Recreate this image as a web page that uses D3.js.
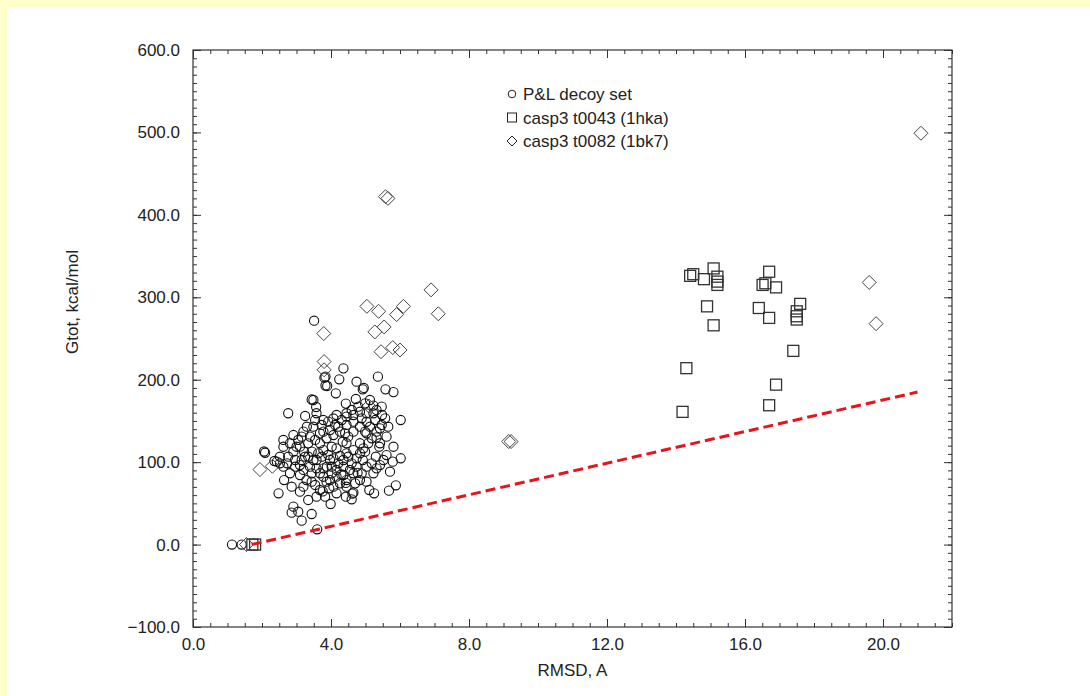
<!DOCTYPE html>
<html>
<head>
<meta charset="utf-8">
<script src="https://cdn.jsdelivr.net/npm/d3@7"></script>
<style>
  html, body { margin: 0; padding: 0; background: #ffffcc; }
  #chart { position: absolute; left: 7px; top: 7px; width: 1083px; height: 689px; background: #fff; }
  text { font-family: "Liberation Sans", Arial, Helvetica, sans-serif; fill: #222; }
</style>
</head>
<body>
<div id="chart"></div>
<script>
// P&L decoy set (RMSD, Gtot)
var decoySet = [
  [1.13,0],[1.41,0],
  [3.51,271.6],[4.36,213.8],[4.24,200.5],[4.74,197.6],[4.92,188.3],[5.36,203.7],[5.58,188.3],[5.81,185],
  [3.84,203.7],[3.89,192.4],[4.14,183.5],[3.49,175.4],[3.57,166.9],[4.43,171],[4.72,176.6],[5.23,168.6],
  [5.48,157.2],[6.02,151.1],[2.76,159.3],[3.25,156],[3.58,159.3],[4.16,157.2],[4.45,159.3],[2.09,111.4],
  [2.62,118.7],[2.91,132.9],[3.15,130.9],[3.39,130.9],[3.68,122.9],[4.02,118.7],[4.45,122.9],[4.84,122.9],
  [5.03,135],[5.4,118.7],[5.61,130.9],[5.3,106.6],[6.02,104.7],[5.79,100.6],[5.71,88.4],[5.42,96.5],
  [5.23,86.5],[4.92,102.5],[4.65,86.5],[4.7,74.3],[4.45,70.2],[4.26,74.3],[3.97,78.3],[3.68,86.5],
  [3.44,76.3],[3.2,70.2],[3.1,84.4],[2.81,86.5],[2.64,78.3],[2.48,62.2],[2.91,46],[2.86,38.7],
  [3.05,39.9],[3.15,29],[3.44,37.1],[3.34,54.1],[3.58,58.1],[3.83,58.1],[3.99,49.2],[3.95,68.3],
  [4.16,62.2],[4.43,58.1],[4.6,54.9],[4.65,63],[5.11,66.2],[5.25,62.2],[5.68,65.4],[5.88,71.9],
  [3.6,18.5],[2.36,101.4],[2.52,98.6],[2.73,98.6],[2.96,102.6],[3.1,96.5],[3.25,106.6],[3.44,112.7],
  [3.73,106.6],[3.97,102.6],[4.26,107.5],[4.45,110.7],[4.65,114.7],[4.99,112.7],[2.62,126.9],[2.81,122.9],
  [3.0,118.7],[3.3,143],[3.49,143],[3.78,137],[3.97,139],[4.21,143],[4.41,135],[4.65,137],
  [4.84,143],[5.03,149],[5.28,151.1],[5.42,141],[5.66,143],[5.42,122.9],[5.32,130],[5.81,118.7],
  [5.61,108.6],[3.78,151.1],[4.07,153],[4.65,157.2],[4.84,161.2],[5.23,159.3],[3.39,94.5],[3.58,92.5],
  [3.88,94.5],[4.16,90.5],[4.36,94.5],[3.54,72.3],[3.78,82.3],[4.95,190],[4.62,61.8],[4.77,87],
  [4.43,74.8],[4.3,85],[3.76,64.5],[3.81,202.5],[3.84,193],[2.06,112.9],[3.44,176],
  [3.10,118.8],[3.22,112.7],[3.34,106.6],[3.49,102.6],[3.63,110.7],[3.78,114.7],[3.92,108.7],[4.07,104.6],
  [4.21,98.6],[4.36,102.6],[4.50,106.6],[4.60,98.6],[4.74,104.6],[4.84,110.7],[4.94,116.8],[5.08,122.8],
  [5.18,128.9],[5.32,137.0],[5.47,145.1],[5.57,153.1],[5.03,159.2],[4.89,153.1],[4.65,149.1],[4.45,145.1],
  [4.26,137.0],[4.07,132.9],[3.87,128.9],[3.68,134.9],[3.54,126.9],[3.34,122.8],[3.20,137.0],[3.05,126.9],
  [2.91,112.7],[2.76,106.6],[2.62,94.5],[2.52,106.6],[2.43,100.6],[2.96,94.5],[3.20,90.5],[3.44,86.4],
  [3.58,102.6],[3.78,92.5],[4.02,86.4],[4.16,82.4],[4.36,84.4],[4.55,90.5],[4.74,94.5],[4.89,86.4],
  [5.03,94.5],[5.18,98.6],[5.32,92.5],[5.52,102.6],[3.54,151.1],[3.73,145.1],[3.92,149.1],[4.12,145.1],
  [4.31,151.1],[4.45,155.2],[4.60,163.3],[4.79,167.3],[4.99,171.3],[5.13,175.4],[5.32,163.3],[5.47,167.3],
  [3.29,78.3],[3.10,64.2],[3.68,66.2],[3.87,76.3],[4.07,70.2],[4.45,78.3],[4.84,78.3],[5.03,76.3],
  [4.02,94.5],[4.16,116.8],[4.34,124.8],[4.50,130.9],[4.99,137.0],[5.13,143.0],[3.15,102.6],[2.86,70.2]
];

// casp3 t0043 (1hka)
var t0043 = [
  [14.41,326],[14.5,328],[14.81,322],[15.09,335],[15.2,325],[15.2,319],[15.2,315],[14.9,289],
  [15.09,266],[16.7,331],[16.51,315],[16.59,317],[16.9,312],[16.4,287],[16.7,275],[17.6,292],
  [17.5,283],[17.5,277],[17.5,273],[17.4,235],[14.3,214],[16.9,194],[14.19,161],[16.7,169],
  [1.72,0],[1.8,0]
];

// casp3 t0082 (1bk7)
var t0082 = [
  [21.1,499],[5.58,422],[5.65,420],[6.9,309],[7.11,280],[5.04,289],[5.38,283],[6.1,289],
  [5.9,279],[5.54,264],[5.27,258],[3.79,256],[5.45,234],[5.79,239],[6.0,236],[3.8,222],
  [3.8,212],[1.94,91],[2.3,95],[9.15,125],[9.22,125],[19.6,318],[19.8,268],[1.55,0],[5.1,168]
];

// red dashed lower-bound line
var boundLine = [[1.7,0],[21.0,185]];

var legendLabels = ["P&L decoy set", "casp3 t0043 (1hka)", "casp3 t0082 (1bk7)"];
var xTicks = [0, 4, 8, 12, 16, 20];
var yTicks = [-100, 0, 100, 200, 300, 400, 500, 600];

var width = 1083, height = 689;
// plot frame inside the white panel (panel starts at 7,7)
var plotLeft = 186, plotRight = 945, plotTop = 43, plotBottom = 620;
var fontSize = '17px';

var svg = d3.select('#chart').append('svg')
    .attr('width', width)
    .attr('height', height);

var x = d3.scaleLinear().domain([0, 22]).range([plotLeft, plotRight]);
var y = d3.scaleLinear().domain([-100, 600]).range([plotBottom, plotTop]);

var fmt = d3.format('.1f');
var xMinor = d3.range(0, 22.01, 0.5);
var yMinor = d3.range(-100, 600.1, 10);

function styleAxis(g) {
    g.select('.domain').remove();
    g.selectAll('line').attr('stroke', '#333');
    g.selectAll('text').style('font-size', fontSize).attr('fill', '#222');
}

// minor ticks, all four sides, pointing in
svg.append('g').attr('transform', 'translate(0,' + plotBottom + ')')
    .call(d3.axisBottom(x).tickValues(xMinor).tickSize(-4).tickFormat('')).call(styleAxis);
svg.append('g').attr('transform', 'translate(0,' + plotTop + ')')
    .call(d3.axisTop(x).tickValues(xMinor).tickSize(-4).tickFormat('')).call(styleAxis);
svg.append('g').attr('transform', 'translate(' + plotLeft + ',0)')
    .call(d3.axisLeft(y).tickValues(yMinor).tickSize(-4).tickFormat('')).call(styleAxis);
svg.append('g').attr('transform', 'translate(' + plotRight + ',0)')
    .call(d3.axisRight(y).tickValues(yMinor).tickSize(-4).tickFormat('')).call(styleAxis);

// major ticks + labels
svg.append('g').attr('transform', 'translate(0,' + plotBottom + ')')
    .call(d3.axisBottom(x).tickValues(xTicks).tickSize(-8).tickPadding(11).tickFormat(fmt)).call(styleAxis);
svg.append('g').attr('transform', 'translate(0,' + plotTop + ')')
    .call(d3.axisTop(x).tickValues(xTicks).tickSize(-8).tickFormat('')).call(styleAxis);
svg.append('g').attr('transform', 'translate(' + plotLeft + ',0)')
    .call(d3.axisLeft(y).tickValues(yTicks).tickSize(-8).tickPadding(13).tickFormat(fmt)).call(styleAxis);
svg.append('g').attr('transform', 'translate(' + plotRight + ',0)')
    .call(d3.axisRight(y).tickValues(yTicks).tickSize(-8).tickFormat('')).call(styleAxis);

// frame
svg.append('rect')
    .attr('x', plotLeft).attr('y', plotTop)
    .attr('width', plotRight - plotLeft).attr('height', plotBottom - plotTop)
    .attr('fill', 'none').attr('stroke', '#333').attr('stroke-width', 1.2);

// axis titles
svg.append('text')
    .attr('x', (plotLeft + plotRight) / 2).attr('y', 669)
    .attr('text-anchor', 'middle')
    .style('font-size', fontSize)
    .text('RMSD, A');

svg.append('text')
    .attr('transform', 'translate(71,295) rotate(-90)')
    .attr('text-anchor', 'middle')
    .style('font-size', fontSize)
    .text('Gtot, kcal/mol');

var diamond = function(s) { return 'M0,' + (-s) + 'L' + s + ',0L0,' + s + 'L' + (-s) + ',0Z'; };

// circles
svg.append('g').selectAll('circle')
    .data(decoySet).enter().append('circle')
    .attr('cx', function(d) { return x(d[0]); })
    .attr('cy', function(d) { return y(d[1]); })
    .attr('r', 4.6)
    .attr('fill', 'none').attr('stroke', '#111').attr('stroke-width', 1.1);

// squares
svg.append('g').selectAll('rect')
    .data(t0043).enter().append('rect')
    .attr('x', function(d) { return x(d[0]) - 5.5; })
    .attr('y', function(d) { return y(d[1]) - 5.5; })
    .attr('width', 11).attr('height', 11)
    .attr('fill', 'none').attr('stroke', '#333').attr('stroke-width', 1.3);

// diamonds
svg.append('g').selectAll('path')
    .data(t0082).enter().append('path')
    .attr('transform', function(d) { return 'translate(' + x(d[0]) + ',' + y(d[1]) + ')'; })
    .attr('d', diamond(7))
    .attr('fill', 'none').attr('stroke', '#444').attr('stroke-width', 1);

// dashed bound
svg.append('path')
    .datum(boundLine)
    .attr('d', d3.line().x(function(d) { return x(d[0]); }).y(function(d) { return y(d[1]); }))
    .attr('fill', 'none').attr('stroke', '#e8141c').attr('stroke-width', 3)
    .attr('stroke-dasharray', '10,5');

// legend
var legend = svg.append('g').attr('transform', 'translate(505,87)');
legendLabels.forEach(function(label, i) {
    var row = legend.append('g').attr('transform', 'translate(0,' + (i * 23.5) + ')');
    if (i === 0) {
        row.append('circle').attr('r', 3.8).attr('fill', 'none').attr('stroke', '#222');
    } else if (i === 1) {
        row.append('rect').attr('x', -4.5).attr('y', -4.5).attr('width', 9).attr('height', 9)
            .attr('fill', 'none').attr('stroke', '#222');
    } else {
        row.append('path').attr('d', diamond(5)).attr('fill', 'none').attr('stroke', '#222');
    }
    row.append('text').attr('x', 11).attr('dy', '0.36em')
        .style('font-size', fontSize)
        .text(label);
});
</script>
</body>
</html>
